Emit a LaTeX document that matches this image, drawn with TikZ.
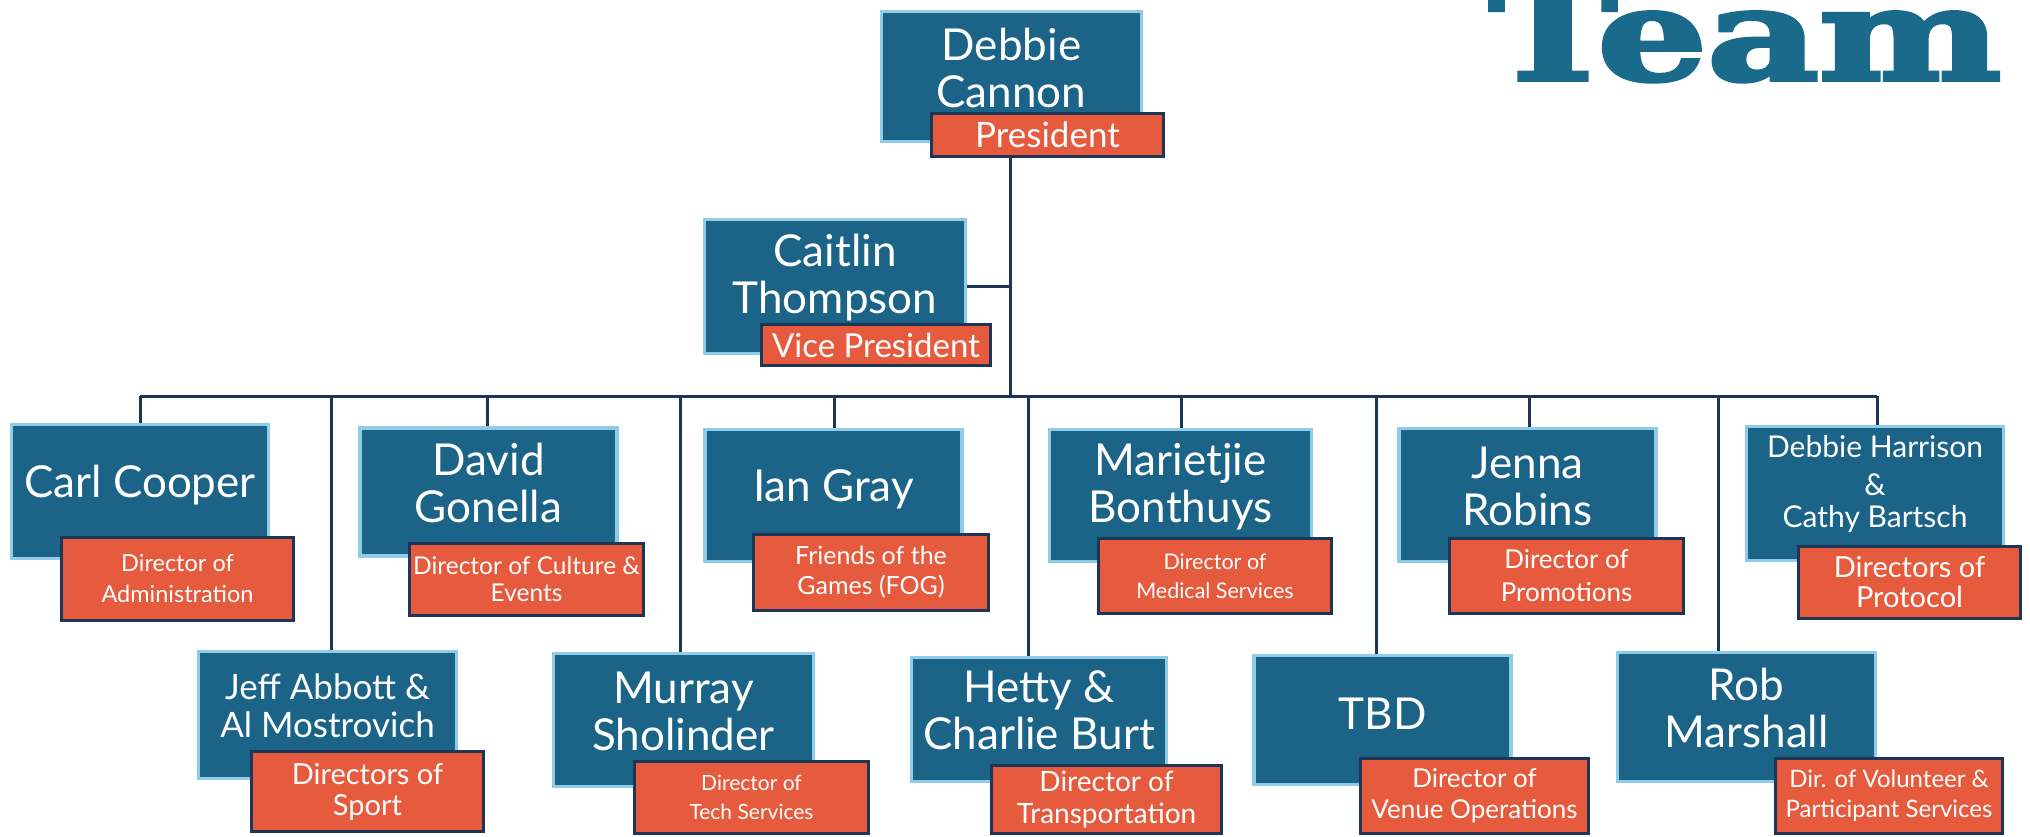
\documentclass[tikz,border=0pt]{standalone}
\usepackage{fontspec}
\setmainfont{Lato}
\newfontfamily\titlefont{DejaVu Serif}[BoldFeatures={FakeBold=3}]
\usetikzlibrary{calc}

\definecolor{darkblue}{HTML}{1B6488}
\definecolor{lightblue}{HTML}{8FCCE8}
\definecolor{rolered}{HTML}{E65A3D}
\definecolor{navy}{HTML}{1D3557}
\definecolor{titleblue}{HTML}{1A6A8C}

\begin{document}
\begin{tikzpicture}[x=1pt, y=-1pt,
        name_style/.style={rectangle,draw=lightblue,fill=darkblue,line width=3.5pt,inner sep=0pt,minimum width=257pt,minimum height=132pt},
        name_text/.style={text=white,align=center,inner sep=0pt,yshift=9pt,font=\fontsize{44}{47}\selectfont},
        role_style/.style={rectangle,draw=navy,fill=rolered,line width=3.5pt,inner sep=0pt,text=white,align=center,minimum width=232pt,minimum height=75pt},
        role_font/.style 2 args={font=\fontsize{#1}{#2}\selectfont},
        link_style/.style={draw=navy,line width=3pt},
        title_style/.style={text=titleblue,anchor=base,inner sep=0pt,font=\titlefont\bfseries\fontsize{150}{150}\selectfont}]

        \clip (0,0) rectangle (2030,837);
        \fill[white] (0,0) rectangle (2030,837);

        \node [title_style](title) at (1745,80) {\scalebox{1.15}[0.85]{Team}};

        % president and vice president
        \node [name_style,minimum width=260pt,minimum height=130pt,label={[name_text]center:{Debbie\\Cannon}}](pres) at (1011.5,76.5) {};
        \node [role_style,role_font={35}{40},minimum width=232pt,minimum height=43pt](presrole) at (1047.5,135) {President};

        \node [name_style,minimum width=261pt,minimum height=134pt,label={[name_text]center:{Caitlin\\Thompson}}](vp) at (835,286.5) {};
        \node [role_style,role_font={33}{38},minimum width=229pt,minimum height=41pt](vprole) at (876,345) {Vice President};

        % first row of directors
        \node [name_style,minimum height=134pt,label={[name_text,yshift=-3pt]center:Carl Cooper}](carl) at (140,491.5) {};
        \node [role_style,role_font={23.5}{31},minimum height=83pt](carlrole) at (177.5,579) {Director of\\Administration};

        \node [name_style,minimum height=128pt,label={[name_text]center:{David\\Gonella}}](david) at (488.5,492) {};
        \node [role_style,role_font={24.5}{27},minimum width=234pt,minimum height=72pt](davidrole) at (526.5,579.5) {Director of Culture \&\\Events};

        \node [name_style,label={[name_text,yshift=-3pt]center:Ian Gray}](ian) at (833.5,495.5) {};
        \node [role_style,role_font={25}{30},minimum width=235pt,minimum height=76pt](ianrole) at (871,572.5) {Friends of the\\Games (FOG)};

        \node [name_style,minimum width=262pt,label={[name_text]center:{Marietjie\\Bonthuys}}](marietjie) at (1180.5,495.5) {};
        \node [role_style,role_font={21.5}{29},minimum width=233pt](marietjierole) at (1215,576) {Director of\\Medical Services};

        \node [name_style,minimum height=133pt,label={[name_text]center:{Jenna\\Robins}}](jenna) at (1527.5,495) {};
        \node [role_style,role_font={26}{33},minimum width=234pt](jennarole) at (1566.5,576) {Director of\\Promotions};

        \node [name_style,minimum height=134pt,label={[name_text,role_font={30}{32}]center:{Debbie Harrison\\[6pt]\&\\Cathy Bartsch}}](debbieh) at (1875,493.5) {};
        \node [role_style,role_font={29}{30},minimum width=222pt,minimum height=72pt](debbiehrole) at (1909.5,582.5) {Directors of\\Protocol};

        % second row of directors
        \node [name_style,minimum width=258pt,minimum height=127pt,label={[name_text,role_font={35}{38}]center:{Jeff Abbott \&\\Al Mostrovich}}](jeff) at (327.5,715) {};
        \node [role_style,role_font={29}{31},minimum height=80pt](jeffrole) at (367.5,791.5) {Directors of\\Sport};

        \node [name_style,minimum width=260pt,minimum height=133pt,label={[name_text]center:{Murray\\Sholinder}}](murray) at (683.5,720) {};
        \node [role_style,role_font={21}{29},minimum width=234pt,minimum height=72pt](murrayrole) at (751.5,797.5) {Director of\\Tech Services};

        \node [name_style,minimum width=255pt,minimum height=124pt,label={[name_text]center:{Hetty \&\\Charlie Burt}}](hetty) at (1039,719.5) {};
        \node [role_style,role_font={28}{32},minimum width=230pt,minimum height=68pt](hettyrole) at (1106.5,799.5) {Director of\\Transportation};

        \node [name_style,minimum height=129pt,label={[name_text,yshift=-3pt]center:TBD}](tbd) at (1382.5,720) {};
        \node [role_style,role_font={26}{31},minimum width=228pt](tbdrole) at (1474.5,796) {Director of\\Venue Operations};

        \node [name_style,minimum width=258pt,minimum height=129pt,label={[name_text]center:{Rob\\Marshall}}](rob) at (1746.5,717) {};
        \node [role_style,role_font={24}{30},minimum width=227pt](robrole) at (1889,796) {Dir. of Volunteer \&\\Participant Services};

        % taps on the bus
        \coordinate (tmain) at (1010,396);
        \coordinate (tcarl) at (140,396);
        \coordinate (tjeff) at (331,396);
        \coordinate (tdavid) at (487,396);
        \coordinate (tmurray) at (680,396);
        \coordinate (tian) at (834,396);
        \coordinate (thetty) at (1028,396);
        \coordinate (tmarietjie) at (1181,396);
        \coordinate (ttbd) at (1376,396);
        \coordinate (tjenna) at (1529,396);
        \coordinate (trob) at (1718,396);
        \coordinate (tdebbieh) at (1877,396);

        \draw [link_style] (tmain |- presrole.south) -- (tmain);

        \draw [link_style] (vp.east) -- (vp.east -| tmain);

        \draw [link_style] (tcarl) -- (tdebbieh);

        \draw [link_style] (tcarl) -- (tcarl |- carl.north);

        \draw [link_style] (tjeff) -- (tjeff |- jeff.north);

        \draw [link_style] (tdavid) -- (tdavid |- david.north);

        \draw [link_style] (tmurray) -- (tmurray |- murray.north);

        \draw [link_style] (tian) -- (tian |- ian.north);

        \draw [link_style] (thetty) -- (thetty |- hetty.north);

        \draw [link_style] (tmarietjie) -- (tmarietjie |- marietjie.north);

        \draw [link_style] (ttbd) -- (ttbd |- tbd.north);

        \draw [link_style] (tjenna) -- (tjenna |- jenna.north);

        \draw [link_style] (trob) -- (trob |- rob.north);

        \draw [link_style] (tdebbieh) -- (tdebbieh |- debbieh.north);

\end{tikzpicture}
\end{document}
